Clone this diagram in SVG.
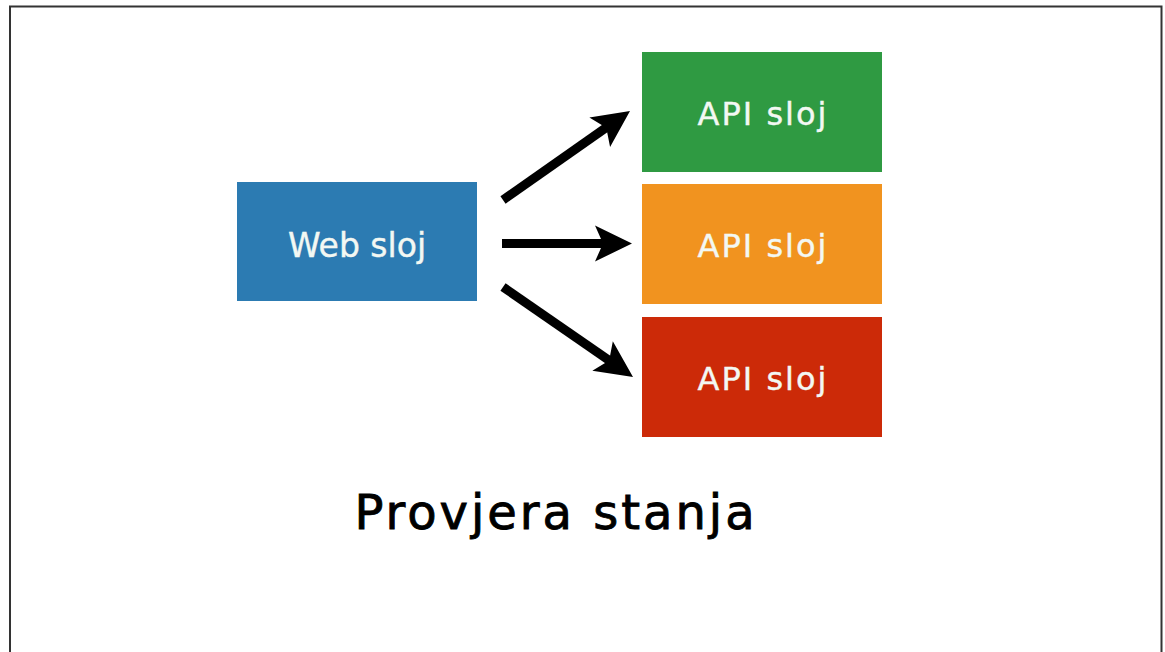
<svg xmlns="http://www.w3.org/2000/svg" width="1165" height="652" viewBox="0 0 1165 652">
  <style>
    .lbl { font-family: "DejaVu Sans", "Liberation Sans", sans-serif; fill: #f3f8f3; stroke: #f3f8f3; stroke-width: 0.4px; text-anchor: middle; }
    .web { font-size: 33px; }
    .api { font-size: 32px; letter-spacing: 2px; }
    .title { font-family: "DejaVu Sans", "Liberation Sans", sans-serif; font-size: 48px; fill: #000; stroke: #000; stroke-width: 0.9px; text-anchor: middle; letter-spacing: 3px; }
    .shaft { stroke: #000; stroke-width: 9; fill: none; }
  </style>
  <defs>
    <!-- arrowhead pointing along +x, tip at origin -->
    <path id="head" d="M0,0 L-37,-18 L-29,0 L-37,18 Z" fill="#000"/>
  </defs>
  <rect width="1165" height="652" fill="#fff"/>
  <!-- frame -->
  <path d="M10,660 V6.5 H1161.5 V660" fill="none" stroke="#333" stroke-width="2"/>

  <g id="web">
    <rect x="237" y="182" width="240" height="119" fill="#2c7bb2"/>
    <text class="lbl web" x="357" y="257">Web sloj</text>
  </g>
  <g id="api1">
    <rect x="642" y="52" width="240" height="120" fill="#2f9a42"/>
    <text class="lbl api" x="763" y="125">API sloj</text>
  </g>
  <g id="api2">
    <rect x="642" y="184" width="240" height="120" fill="#f1931f"/>
    <text class="lbl api" x="763" y="257">API sloj</text>
  </g>
  <g id="api3">
    <rect x="642" y="317" width="240" height="120" fill="#cc2a08"/>
    <text class="lbl api" x="763" y="390">API sloj</text>
  </g>

  <g id="connectors">
    <line class="shaft" x1="503" y1="200" x2="607" y2="127"/>
    <use href="#head" transform="translate(630,111) rotate(-35.1)"/>
    <line class="shaft" x1="502" y1="243.5" x2="605" y2="243.5"/>
    <use href="#head" transform="translate(632,243.5)"/>
    <line class="shaft" x1="503" y1="287" x2="610" y2="361"/>
    <use href="#head" transform="translate(633,377) rotate(34.7)"/>
  </g>

  <text class="title" x="556" y="529">Provjera stanja</text>
</svg>
